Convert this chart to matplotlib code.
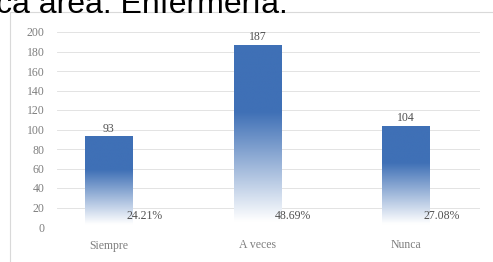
import numpy as np
import matplotlib.pyplot as plt
from matplotlib.patches import Rectangle
from matplotlib.colors import to_rgb

# data
categories = ["Siempre", "A veces", "Nunca"]
counts = [93, 187, 104]
percents = ["24.21%", "48.69%", "27.08%"]
y_ticks = list(range(0, 201, 20))

bar_color = to_rgb("#3f70b6")
text_gray = "#7f7f7f"
serif = ["Liberation Serif", "DejaVu Serif"]

fig = plt.figure(figsize=(4.93, 2.62), dpi=100)

# chart panel border
fig.patches.append(Rectangle((10 / 493, -0.01), 0.99, 1 - 12 / 262 + 0.01,
                             transform=fig.transFigure, facecolor="white",
                             edgecolor="#d9d9d9", linewidth=0.8, zorder=-5))

# cropped caption text at the very top
fig.text(-4 / 493, 1 - 13 / 262, "ca área: Enfermería.", fontsize=23,
         family=["Liberation Sans", "DejaVu Sans"], va="baseline", ha="left",
         color="black")

ax = fig.add_axes([57 / 493, 35 / 262, (480 - 57) / 493, (227 - 32) / 262])
ax.set_facecolor("none")
ax.set_zorder(2)

x = np.arange(len(categories))
bars = ax.bar(x, counts, width=0.32, color="none", zorder=3)

# vertical gradient: solid blue at top fading to white at the bottom
t = np.linspace(0, 1, 256)
f = np.clip((t - 0.03) / 0.6, 0, 1)
grad = np.ones((256, 1, 3))
for c in range(3):
    grad[:, 0, c] = 1 - f * (1 - bar_color[c])

for b in bars:
    x0, w, h = b.get_x(), b.get_width(), b.get_height()
    im = ax.imshow(grad, extent=[x0, x0 + w, 0, h], origin="lower",
                   aspect="auto", zorder=3, interpolation="bilinear")
    im.set_clip_path(b)

for i, (v, p) in enumerate(zip(counts, percents)):
    ax.text(x[i], v + 1.5, str(v), ha="center", va="bottom", fontsize=8.5,
            family=serif, color="#505050", zorder=4)
    ax.text(x[i] + 0.12, 11, p, ha="left", va="center", fontsize=8.5,
            family=serif, color="#505050", zorder=4)

ax.set_xlim(-0.35, 2.5)
ax.set_ylim(0, 200)
ax.set_yticks(y_ticks)
ax.set_xticks(x)
ax.set_xticklabels(categories)
ax.grid(axis="y", color="#e3e3e3", linewidth=0.7, zorder=0)
ax.set_axisbelow(True)
for s in ax.spines.values():
    s.set_visible(False)
ax.tick_params(length=0, labelsize=8.5, colors=text_gray)
ax.tick_params(axis="x", pad=9)
ax.tick_params(axis="y", pad=9)
for lab in ax.get_xticklabels() + ax.get_yticklabels():
    lab.set_family(serif)

fig.savefig("out.png", dpi=100)
